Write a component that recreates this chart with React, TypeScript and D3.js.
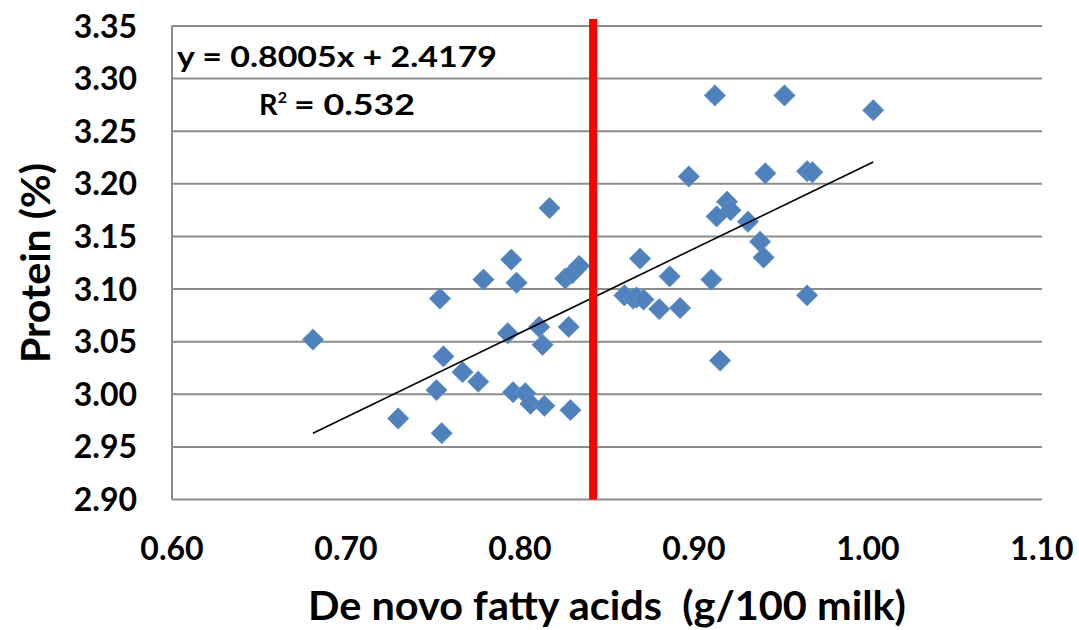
import React from "react";
import * as d3 from "d3";

const xValues = [
  0.681, 0.754, 0.756, 0.752, 0.730, 0.755, 0.767, 0.776, 0.779, 0.795, 0.798, 0.793,
  0.811, 0.813, 0.828, 0.796, 0.803, 0.806, 0.814, 0.829, 0.826, 0.830, 0.834, 0.817,
  0.869, 0.886, 0.860, 0.865, 0.867, 0.871, 0.880, 0.892, 0.897, 0.912, 0.952, 1.003,
  0.941, 0.965, 0.968, 0.919, 0.921, 0.913, 0.931, 0.938, 0.940, 0.910, 0.965, 0.915,
];
const yValues = [
  3.052, 3.091, 3.036, 3.004, 2.977, 2.963, 3.021, 3.012, 3.109, 3.128, 3.106, 3.058,
  3.064, 3.047, 3.064, 3.002, 3.001, 2.991, 2.989, 2.985, 3.110, 3.115, 3.122, 3.177,
  3.129, 3.112, 3.094, 3.091, 3.092, 3.090, 3.081, 3.082, 3.207, 3.284, 3.284, 3.270,
  3.210, 3.212, 3.211, 3.183, 3.175, 3.169, 3.164, 3.145, 3.130, 3.109, 3.094, 3.032,
];
const xTicks = [0.6, 0.7, 0.8, 0.9, 1.0, 1.1];
const yTicks = [2.9, 2.95, 3.0, 3.05, 3.1, 3.15, 3.2, 3.25, 3.3, 3.35];
const slope = 0.8005;
const intercept = 2.4179;
const thresholdX = 0.842;
const equationLabel = "y = 0.8005x + 2.4179";
const r2Value = "= 0.532";
const xTitle = "De novo fatty acids  (g/100 milk)";
const yTitle = "Protein (%)";

export default function App() {
  const W = 1079;
  const H = 630;
  const x = d3.scaleLinear().domain([0.6, 1.1]).range([172, 1042]);
  const y = d3.scaleLinear().domain([2.9, 3.35]).range([499.5, 26]);
  const font = "Lato, 'Open Sans', sans-serif";
  const [xmin, xmax] = d3.extent(xValues) as [number, number];
  const trend = d3.line<number>().x((v) => x(v)).y((v) => y(slope * v + intercept))([xmin, xmax]);
  const diamond = d3.symbol().type(d3.symbolDiamond2).size(290)();
  const pts = xValues.map((v, i) => [v, yValues[i]]);
  const grid = "#8c8c8c";
  return (
    <svg width={W} height={H} style={{ position: "absolute", left: 0, top: 0, background: "#fff" }}>
      {yTicks.map((t) => (
        <line key={t} x1={x(0.6)} x2={x(1.1)} y1={y(t)} y2={y(t)} stroke={grid} strokeWidth={2} />
      ))}
      <line x1={x(0.6)} x2={x(0.6)} y1={y(3.35)} y2={y(2.9)} stroke={grid} strokeWidth={2} />
      {yTicks.map((t) => (
        <text key={t} x={137} y={y(t)} dy="0.36em" textAnchor="end" fontFamily={font}
          fontWeight="bold" fontSize={32} fill="#000">{t.toFixed(2)}</text>
      ))}
      {xTicks.map((t) => (
        <text key={t} x={x(t)} y={548} dy="0.36em" textAnchor="middle" fontFamily={font}
          fontWeight="bold" fontSize={32} fill="#000">{t.toFixed(2)}</text>
      ))}
      {pts.map(([a, b], i) => (
        <path key={i} d={diamond!} transform={`translate(${x(a)},${y(b)})`} fill="#4f81bd"
          stroke="#6a95c9" strokeWidth={0.8} />
      ))}
      <path d={trend!} stroke="#000" strokeWidth={1.6} fill="none" />
      <line x1={x(thresholdX)} x2={x(thresholdX)} y1={y(3.35) - 7} y2={y(2.9)} stroke="#ff0000" strokeWidth={8} />
      <text x={177} y={67} fontFamily={font} fontWeight="bold" fontSize={28} textLength={320}
        lengthAdjust="spacingAndGlyphs" fill="#000">{equationLabel}</text>
      <text x={259} y={115} fontFamily={font} fontWeight="bold" fontSize={29} fill="#000">
        R<tspan fontSize={16} dy={-12}>2</tspan>
      </text>
      <text x={294} y={115} fontFamily={font} fontWeight="bold" fontSize={29} textLength={121}
        lengthAdjust="spacingAndGlyphs" fill="#000">{r2Value}</text>
      <text x={607} y={606} dy="0.36em" textAnchor="middle" fontFamily={font} fontWeight="bold"
        fontSize={40} textLength={598} lengthAdjust="spacingAndGlyphs" fill="#000"
        style={{ whiteSpace: "pre" }}>{xTitle}</text>
      <text transform="translate(36,263) rotate(-90)" dy="0.36em" textAnchor="middle" fontFamily={font}
        fontWeight="bold" fontSize={40} textLength={200} lengthAdjust="spacingAndGlyphs" fill="#000">{yTitle}</text>
    </svg>
  );
}
